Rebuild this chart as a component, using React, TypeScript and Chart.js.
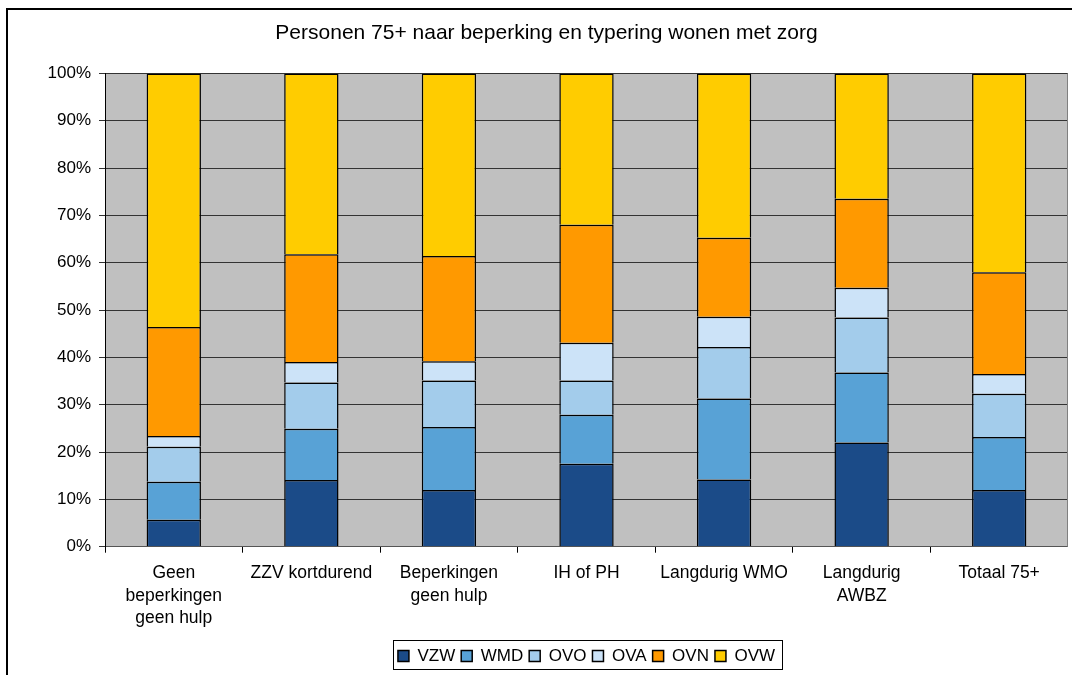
import React, { useEffect, useRef } from "react";
import { Chart, registerables } from "chart.js";

Chart.register(...registerables);

const categories: (string | string[])[] = [
  ["Geen", "beperkingen", "geen hulp"],
  "ZZV kortdurend",
  ["Beperkingen", "geen hulp"],
  "IH of PH",
  "Langdurig WMO",
  ["Langdurig", "AWBZ"],
  "Totaal 75+",
];

const VZW = [5.7, 14.1, 12.0, 17.5, 14.2, 22.0, 12.0];
const WMD = [8.0, 10.8, 13.3, 10.4, 17.1, 14.8, 11.2];
const OVO = [7.4, 9.8, 9.8, 7.2, 10.9, 11.6, 9.1];
const OVA = [2.3, 4.3, 4.1, 8.0, 6.4, 6.3, 4.2];
const OVN = [23.0, 22.8, 22.2, 24.9, 16.7, 18.8, 21.5];
const OVW = [53.6, 38.2, 38.6, 32.0, 34.7, 26.5, 42.0];

const seriesNames = ["VZW", "WMD", "OVO", "OVA", "OVN", "OVW"];
const seriesColors = ["#1B4B88", "#58A2D6", "#A3CCEB", "#CCE3F8", "#FF9900", "#FFCC00"];

const yMin = 0;
const yMax = 100;
const yStep = 10;

const titleText = "Personen 75+ naar beperking en typering wonen met zorg";
const FONT = "'Liberation Sans', Arial, sans-serif";

const plotBackground = {
  id: "plotBackground",
  beforeDraw(chart: any) {
    const { ctx, chartArea } = chart;
    if (!chartArea) return;
    ctx.save();
    ctx.fillStyle = "#C0C0C0";
    ctx.fillRect(chartArea.left, chartArea.top, chartArea.right - chartArea.left, chartArea.bottom - chartArea.top);
    ctx.restore();
  },
  afterDraw(chart: any) {
    const { ctx, chartArea } = chart;
    if (!chartArea) return;
    ctx.save();
    ctx.strokeStyle = "#808080";
    ctx.lineWidth = 1;
    ctx.beginPath();
    ctx.moveTo(Math.round(chartArea.right) - 0.5, chartArea.top);
    ctx.lineTo(Math.round(chartArea.right) - 0.5, chartArea.bottom);
    ctx.stroke();
    ctx.restore();
  },
};

// shift the title block a little to the right, as in the reference
const titleShift = {
  id: "titleShift",
  afterLayout(chart: any) {
    const t = chart.titleBlock;
    if (t) {
      t.left += 8.5;
      t.right += 8.5;
    }
  },
};

const legendFrame = {
  id: "legendFrame",
  afterDraw(chart: any) {
    const lg = chart.legend;
    if (!lg || !lg.legendHitBoxes || !lg.legendHitBoxes.length) return;
    const boxes = lg.legendHitBoxes;
    let minX = Infinity, maxX = -Infinity, minY = Infinity, maxY = -Infinity;
    boxes.forEach((h: any) => {
      minX = Math.min(minX, h.left);
      maxX = Math.max(maxX, h.left + h.width);
      minY = Math.min(minY, h.top);
      maxY = Math.max(maxY, h.top + h.height);
    });
    const { ctx } = chart;
    ctx.save();
    ctx.strokeStyle = "#000";
    ctx.lineWidth = 1;
    const x0 = Math.round(minX - 5) + 0.5;
    const x1 = Math.round(maxX + 7) + 0.5;
    const y0 = Math.round(minY - 7) + 0.5;
    const y1 = Math.round(maxY + 5) + 0.5;
    ctx.strokeRect(x0, y0, x1 - x0, y1 - y0);
    ctx.restore();
  },
};

export default function App() {
  const canvasRef = useRef<HTMLCanvasElement | null>(null);

  useEffect(() => {
    if (!canvasRef.current) return;
    const seriesData = [VZW, WMD, OVO, OVA, OVN, OVW];
    const chart = new Chart(canvasRef.current, {
      type: "bar",
      data: {
        labels: categories,
        datasets: seriesNames.map((name, i) => ({
          label: name,
          data: seriesData[i],
          backgroundColor: seriesColors[i],
          borderColor: "#000000",
          borderWidth: 1.5,
          categoryPercentage: 1,
          barPercentage: 0.395,
        })),
      },
      options: {
        animation: false,
        responsive: true,
        maintainAspectRatio: false,
        layout: { padding: { left: 0, right: 0, top: 0, bottom: 0.5 } },
        plugins: {
          title: {
            display: true,
            text: titleText,
            color: "#000",
            font: { family: FONT, size: 21, weight: "normal", lineHeight: 1.2 },
            padding: { top: 11, bottom: 27.2 },
          },
          legend: {
            display: true,
            position: "bottom",
            fullSize: false,
            labels: {
              color: "#000",
              font: { family: FONT, size: 17 },
              boxWidth: 11,
              boxHeight: 11,
              padding: 6,
            },
          },
          tooltip: { enabled: false },
        },
        scales: {
          x: {
            stacked: true,
            grid: {
              display: true,
              drawOnChartArea: false,
              drawTicks: true,
              tickLength: 6,
              color: "#000",
              offset: true,
            },
            border: { display: true, color: "#555" },
            ticks: {
              color: "#000",
              font: { family: FONT, size: 17.5, lineHeight: 1.3 },
              padding: 9,
              maxRotation: 0,
              autoSkip: false,
            },
            afterFit(scale: any) {
              scale.height = 94.8;
            },
          },
          y: {
            stacked: true,
            min: yMin,
            max: yMax,
            grid: {
              color: "#333",
              lineWidth: 1,
              drawTicks: true,
              tickLength: 6,
            },
            border: { display: true, color: "#000" },
            ticks: {
              stepSize: yStep,
              color: "#000",
              font: { family: FONT, size: 17 },
              padding: 8,
              callback: (v: any) => `${v}%`,
            },
            afterFit(scale: any) {
              scale.width = 97;
            },
          },
        },
      },
      plugins: [plotBackground, titleShift, legendFrame],
    });
    return () => chart.destroy();
  }, []);

  return (
    <div
      style={{
        position: "fixed",
        left: 0,
        top: 0,
        width: 1072,
        height: 675,
        overflow: "hidden",
        background: "#fff",
      }}
    >
      <div
        style={{
          position: "absolute",
          left: 6,
          top: 8,
          width: 1200,
          height: 800,
          border: "2px solid #000",
          boxSizing: "border-box",
        }}
      />
      <div style={{ position: "absolute", left: 8, top: 10, width: 1060, height: 665 }}>
        <canvas ref={canvasRef} />
      </div>
    </div>
  );
}
